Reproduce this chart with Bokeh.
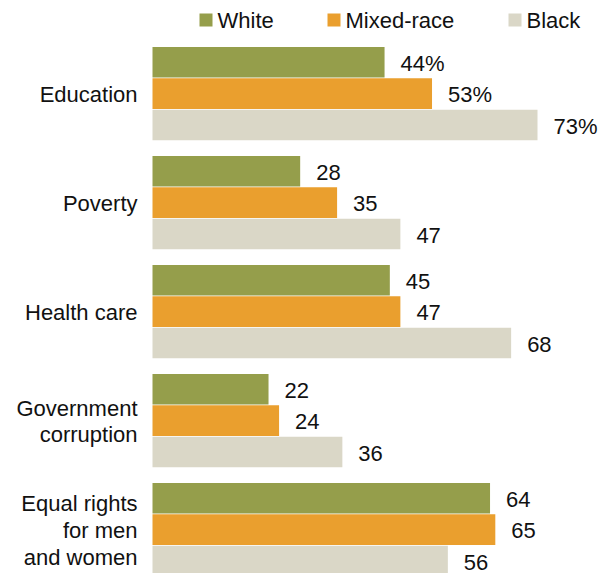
from bokeh.plotting import figure
from bokeh.models import Range1d, ColumnDataSource
from bokeh.core.properties import value
from bokeh.embed import file_html
from bokeh.resources import INLINE

categories = ["Education", "Poverty", "Health care", "Government\ncorruption",
              "Equal rights\nfor men\nand women"]
series = ["White", "Mixed-race", "Black"]
white = [44, 28, 45, 22, 64]
mixed = [53, 35, 47, 24, 65]
black = [73, 47, 68, 36, 56]
colors = ["#959E4B", "#EA9F2E", "#DAD7C7"]

W, H = 607, 573
FRAME_LEFT = 152          # figure px where value 0 sits
SCALE = 5.274             # px per percentage point
GROUP_TOP = 46
GROUP_STEP = 109
BAR_STEP = 31.4
BAR_H = 30.6
FONT = "Liberation Sans"

p = figure(width=W, height=H, output_backend="svg", toolbar_location=None,
           x_range=Range1d(-FRAME_LEFT / SCALE, (W - FRAME_LEFT) / SCALE),
           y_range=Range1d(H, 0), min_border=0)
p.axis.visible = False
p.grid.visible = False
p.outline_line_color = None
p.background_fill_color = "white"
p.border_fill_color = "white"

for s, (name, vals, col) in enumerate(zip(series, [white, mixed, black], colors)):
    ys = [GROUP_TOP + GROUP_STEP * g + BAR_STEP * s + BAR_STEP / 2 for g in range(len(categories))]
    labels = [f"{v}%" if g == 0 else f"{v}" for g, v in enumerate(vals)]
    src = ColumnDataSource(dict(y=ys, v=vals, lab=labels))
    p.hbar(y="y", left=0, right="v", height=BAR_H, source=src, fill_color=col, line_color=None)
    p.text(x="v", y="y", text="lab", source=src, x_offset=16, y_offset=1,
           text_align="left", text_baseline="middle", text_font=value(FONT),
           text_font_size="22px", text_color="#111111")

cy = [GROUP_TOP + GROUP_STEP * g + BAR_STEP * 1.5 for g in range(len(categories))]
csrc = ColumnDataSource(dict(x=[0] * len(categories), y=cy, t=categories))
p.text(x="x", y="y", text="t", source=csrc, x_offset=-15, y_offset=1,
       text_align="right", text_baseline="middle", text_font=value(FONT),
       text_font_size="22px", text_line_height=1.07, text_color="#111111")

# legend
leg_sq_px = [199, 327, 508]   # figure px, left edge of squares
leg_x = [(px - FRAME_LEFT) / SCALE for px in leg_sq_px]
p.rect(x=[x + 6.5 / SCALE for x in leg_x], y=[19.5] * 3, width=13, height=13,
       width_units="screen", height_units="screen", fill_color=colors, line_color=None)
p.text(x=[x + 18 / SCALE for x in leg_x], y=[20] * 3, text=series,
       text_align="left", text_baseline="middle", text_font=value(FONT),
       text_font_size="22px", text_color="#111111")

open("out.html", "w").write(file_html(p, INLINE))
